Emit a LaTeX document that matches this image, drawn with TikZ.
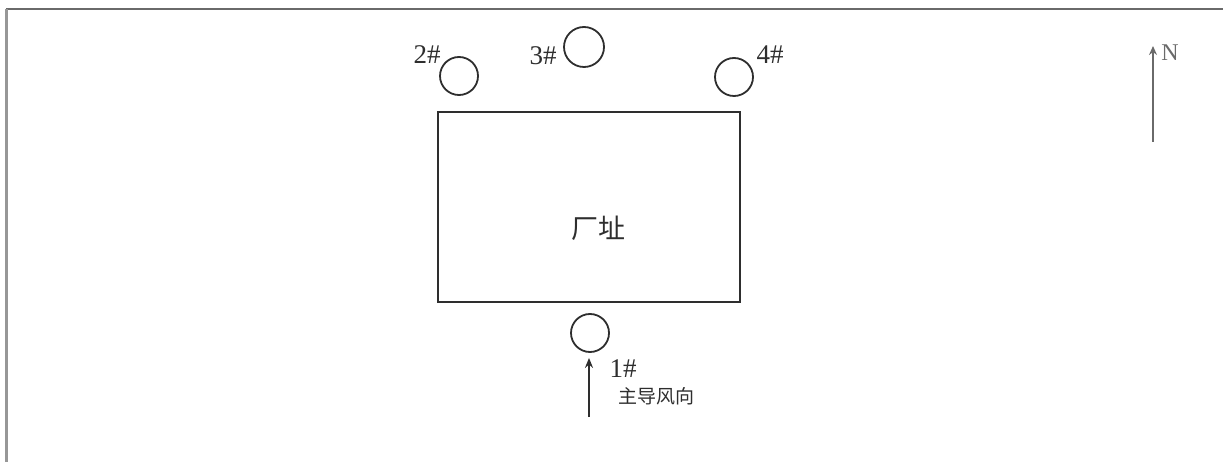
\documentclass[tikz,border=0pt]{standalone}
\usepackage{fontspec}
\setmainfont{Liberation Serif}
\newfontfamily\cjk{Noto Sans CJK SC}
\usetikzlibrary{arrows.meta}
\definecolor{ink}{HTML}{2E2E2E}
\definecolor{framegray}{HTML}{6A6A6A}
\begin{document}
\begin{tikzpicture}[x=1pt,y=-1pt,
  pt/.style={circle,draw=ink,line width=1.8pt,minimum size=38pt,inner sep=0pt},
  lbl/.style={inner sep=0pt,text=ink,font=\fontsize{27}{27}\selectfont},
  cjklbl/.style={inner sep=0pt,text=ink,font=\cjk\fontsize{#1}{#1}\selectfont},
  arr/.style={draw=ink,line width=1.8pt,-{Stealth[length=10pt,width=8pt]}}]
\useasboundingbox (0,0) rectangle (1223,462);
% page frame
\draw[framegray,line width=2pt] (6,9) -- (1223,9);
\draw[framegray!70,line width=3pt] (6,9) -- (6,462);
% site
\node[draw=ink,line width=2pt,minimum width=302pt,minimum height=190pt,inner sep=0pt] (site) at (589,207) {};
\node[cjklbl=27] (sitelbl) at (598,228) {厂址};
% monitoring points
\node[pt] (p2) at (459,76) {};
\node[pt,minimum size=40pt] (p3) at (584,47) {};
\node[pt] (p4) at (734,77) {};
\node[pt] (p1) at (590,333) {};
\node[lbl] (l2) at (427,55) {2\#};
\node[lbl] (l3) at (543,56) {3\#};
\node[lbl] (l4) at (770,55) {4\#};
\node[lbl] (l1) at (623,369) {1\#};
% wind
\coordinate (wtail) at (589,417);
\draw[arr,shorten >=5pt] (wtail) -- (wtail |- p1.south);
\node[cjklbl=19] (wind) at (656,396) {主导风向};
% north
\coordinate (ntail) at (1153,142);
\coordinate (nhead) at (1153,46);
\draw[draw=framegray,line width=2pt,-{Stealth[length=9pt,width=8pt]}] (ntail) -- (nhead);
\node[inner sep=0pt,text=framegray,font=\fontsize{24}{24}\selectfont] (N) at (1170,53) {N};
\end{tikzpicture}
\end{document}
